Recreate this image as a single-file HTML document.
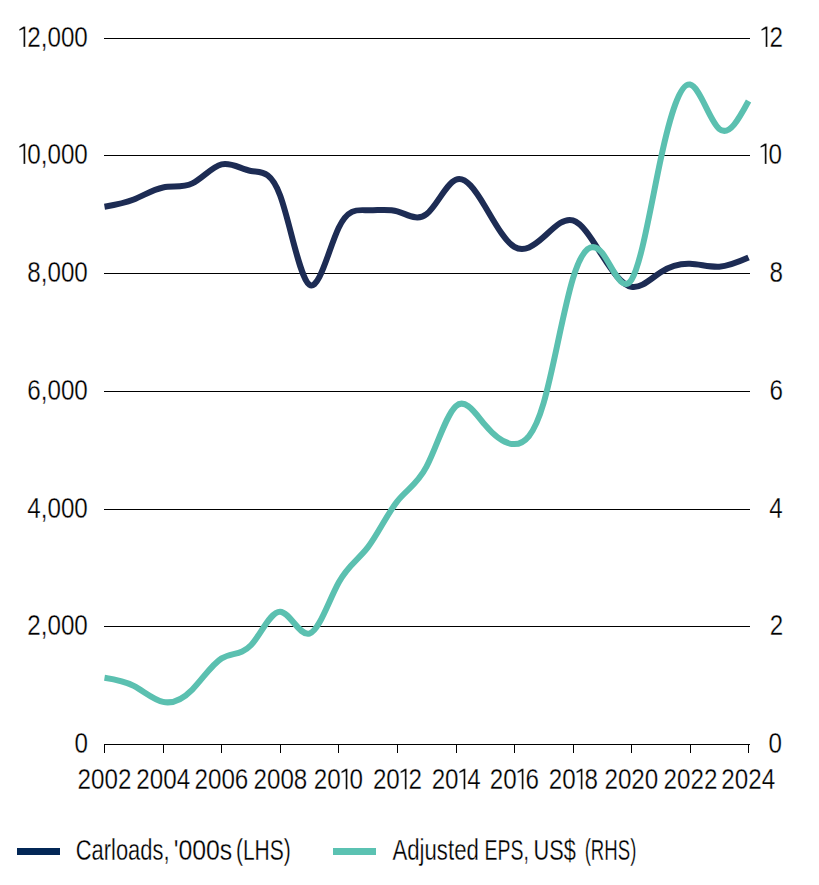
<!DOCTYPE html><html><head><meta charset="utf-8"><title>Carloads vs Adjusted EPS</title><style>html,body{margin:0;padding:0;background:#fff;overflow:hidden;}svg{display:block;}text{font-family:"Liberation Sans", sans-serif;font-size:29.8px;fill:#000;stroke:#fff;stroke-width:0.3px;}</style></head><body>
<svg width="819" height="885" viewBox="0 0 819 885">
<rect width="819" height="885" fill="#fff"/>
<rect x="104" y="38" width="646" height="1" fill="#000"/>
<rect x="104" y="155" width="646" height="1" fill="#000"/>
<rect x="104" y="273" width="646" height="1" fill="#000"/>
<rect x="104" y="391" width="646" height="1" fill="#000"/>
<rect x="104" y="509" width="646" height="1" fill="#000"/>
<rect x="104" y="626" width="646" height="1" fill="#000"/>
<rect x="104" y="744" width="646" height="1" fill="#000"/>
<rect x="104" y="744" width="1" height="9" fill="#000"/>
<rect x="163" y="744" width="1" height="9" fill="#000"/>
<rect x="221" y="744" width="1" height="9" fill="#000"/>
<rect x="280" y="744" width="1" height="9" fill="#000"/>
<rect x="338" y="744" width="1" height="9" fill="#000"/>
<rect x="397" y="744" width="1" height="9" fill="#000"/>
<rect x="456" y="744" width="1" height="9" fill="#000"/>
<rect x="514" y="744" width="1" height="9" fill="#000"/>
<rect x="573" y="744" width="1" height="9" fill="#000"/>
<rect x="631" y="744" width="1" height="9" fill="#000"/>
<rect x="690" y="744" width="1" height="9" fill="#000"/>
<rect x="748" y="744" width="1" height="9" fill="#000"/>
<path d="M104.50 206.70 C114.26 205.07 124.02 203.44 133.78 199.51 C143.53 195.58 153.29 189.34 163.05 187.47 C172.81 185.60 182.57 188.09 192.32 183.40 C202.08 178.71 211.84 166.84 221.60 164.46 C231.36 162.08 241.12 169.19 250.88 170.95 C260.63 172.71 270.39 169.13 280.15 195.52 C289.91 221.91 299.67 278.26 309.42 284.80 C319.18 291.34 328.94 248.05 338.70 227.73 C348.46 207.41 358.22 210.05 367.97 210.32 C377.73 210.59 387.49 208.50 397.25 211.28 C407.01 214.06 416.77 221.72 426.52 214.15 C436.28 206.58 446.04 183.78 455.80 179.67 C465.56 175.56 475.32 190.14 485.07 206.51 C494.83 222.88 504.59 241.05 514.35 246.80 C524.11 252.55 533.87 245.87 543.62 237.09 C553.38 228.31 563.14 217.42 572.90 220.37 C582.66 223.32 592.42 240.10 602.17 255.50 C611.93 270.90 621.69 284.93 631.45 286.84 C641.21 288.75 650.97 278.53 660.72 272.20 C670.48 265.87 680.24 263.43 690.00 263.78 C699.76 264.13 709.52 267.26 719.27 266.68 C729.03 266.10 738.79 261.80 748.55 257.50" fill="none" stroke="#1d2c54" stroke-width="6.0" stroke-linejoin="round"/>
<path d="M104.50 677.68 C114.26 679.19 124.02 680.70 133.78 685.84 C143.53 690.98 153.29 699.76 163.05 701.87 C172.81 703.98 182.57 699.42 192.32 689.53 C202.08 679.64 211.84 664.43 221.60 658.40 C231.36 652.37 241.12 655.53 250.88 645.25 C260.63 634.97 270.39 611.24 280.15 611.64 C289.91 612.04 299.67 636.58 309.42 633.59 C319.18 630.60 328.94 600.10 338.70 582.44 C348.46 564.78 358.22 559.97 367.97 547.18 C377.73 534.39 387.49 513.62 397.25 501.33 C407.01 489.04 416.77 485.23 426.52 466.70 C436.28 448.17 446.04 414.92 455.80 406.19 C465.56 397.46 475.32 413.26 485.07 424.95 C494.83 436.64 504.59 444.21 514.35 444.12 C524.11 444.03 533.87 436.29 543.62 403.00 C553.38 369.71 563.14 310.89 572.90 278.67 C582.66 246.45 592.42 240.84 602.17 252.96 C611.93 265.08 621.69 294.92 631.45 279.81 C641.21 264.70 650.97 204.65 660.72 159.17 C670.48 113.69 680.24 82.80 690.00 84.57 C699.76 86.34 709.52 120.79 719.27 128.97 C729.03 137.15 738.79 119.07 748.55 100.99" fill="none" stroke="#5bc0b0" stroke-width="6.0" stroke-linejoin="round"/>
<g aria-label="12,000" transform="translate(18.51 47.00) scale(0.8120 1)" fill="#000"><path transform="translate(0.00 0) scale(0.014551 -0.014551)" d="M418 0L418 1245L60 1110L60 1220L432 1405L574 1405L574 0Z" stroke="#fff" stroke-width="0.3" vector-effect="non-scaling-stroke"/><text x="10.81">2,000</text></g>
<g aria-label="10,000" transform="translate(18.51 164.00) scale(0.8120 1)" fill="#000"><path transform="translate(0.00 0) scale(0.014551 -0.014551)" d="M418 0L418 1245L60 1110L60 1220L432 1405L574 1405L574 0Z" stroke="#fff" stroke-width="0.3" vector-effect="non-scaling-stroke"/><text x="10.81">0,000</text></g>
<text transform="translate(27.29 282.00) scale(0.8120 1)">8,000</text>
<text transform="translate(27.29 400.00) scale(0.8120 1)">6,000</text>
<text transform="translate(27.29 518.00) scale(0.8120 1)">4,000</text>
<text transform="translate(27.29 635.00) scale(0.8120 1)">2,000</text>
<text transform="translate(74.39 753.00) scale(0.8120 1)">0</text>
<g aria-label="12" transform="translate(760.68 47.00) scale(0.8120 1)" fill="#000"><path transform="translate(0.00 0) scale(0.014551 -0.014551)" d="M418 0L418 1245L60 1110L60 1220L432 1405L574 1405L574 0Z" stroke="#fff" stroke-width="0.3" vector-effect="non-scaling-stroke"/><text x="10.81">2</text></g>
<g aria-label="10" transform="translate(759.81 164.00) scale(0.8120 1)" fill="#000"><path transform="translate(0.00 0) scale(0.014551 -0.014551)" d="M418 0L418 1245L60 1110L60 1220L432 1405L574 1405L574 0Z" stroke="#fff" stroke-width="0.3" vector-effect="non-scaling-stroke"/><text x="10.81">0</text></g>
<text transform="translate(769.49 282.00) scale(0.8120 1)">8</text>
<text transform="translate(769.51 400.00) scale(0.8120 1)">6</text>
<text transform="translate(769.15 518.00) scale(0.8120 1)">4</text>
<text transform="translate(769.66 635.00) scale(0.8120 1)">2</text>
<text transform="translate(768.39 753.00) scale(0.8120 1)">0</text>
<text transform="translate(77.58 789.30) scale(0.8120 1)">2002</text>
<text transform="translate(136.33 789.30) scale(0.8120 1)">2004</text>
<text transform="translate(194.51 789.30) scale(0.8120 1)">2006</text>
<text transform="translate(253.50 789.30) scale(0.8120 1)">2008</text>
<g aria-label="2010" transform="translate(313.79 789.30) scale(0.8120 1)" fill="#000"><text x="0.00">20</text><path transform="translate(33.15 0) scale(0.014551 -0.014551)" d="M418 0L418 1245L60 1110L60 1220L432 1405L574 1405L574 0Z" stroke="#fff" stroke-width="0.3" vector-effect="non-scaling-stroke"/><text x="43.96">0</text></g>
<g aria-label="2012" transform="translate(372.92 789.30) scale(0.8120 1)" fill="#000"><text x="0.00">20</text><path transform="translate(33.15 0) scale(0.014551 -0.014551)" d="M418 0L418 1245L60 1110L60 1220L432 1405L574 1405L574 0Z" stroke="#fff" stroke-width="0.3" vector-effect="non-scaling-stroke"/><text x="43.96">2</text></g>
<g aria-label="2014" transform="translate(431.67 789.30) scale(0.8120 1)" fill="#000"><text x="0.00">20</text><path transform="translate(33.15 0) scale(0.014551 -0.014551)" d="M418 0L418 1245L60 1110L60 1220L432 1405L574 1405L574 0Z" stroke="#fff" stroke-width="0.3" vector-effect="non-scaling-stroke"/><text x="43.96">4</text></g>
<g aria-label="2016" transform="translate(489.85 789.30) scale(0.8120 1)" fill="#000"><text x="0.00">20</text><path transform="translate(33.15 0) scale(0.014551 -0.014551)" d="M418 0L418 1245L60 1110L60 1220L432 1405L574 1405L574 0Z" stroke="#fff" stroke-width="0.3" vector-effect="non-scaling-stroke"/><text x="43.96">6</text></g>
<g aria-label="2018" transform="translate(548.84 789.30) scale(0.8120 1)" fill="#000"><text x="0.00">20</text><path transform="translate(33.15 0) scale(0.014551 -0.014551)" d="M418 0L418 1245L60 1110L60 1220L432 1405L574 1405L574 0Z" stroke="#fff" stroke-width="0.3" vector-effect="non-scaling-stroke"/><text x="43.96">8</text></g>
<text transform="translate(604.45 789.30) scale(0.8120 1)">2020</text>
<text transform="translate(663.58 789.30) scale(0.8120 1)">2022</text>
<text transform="translate(721.33 789.30) scale(0.8120 1)">2024</text>
<text transform="translate(75.69 859.80) scale(0.7361 1)">Carloads,</text>
<text transform="translate(173.64 859.80) scale(0.8343 1)">'000s</text>
<text transform="translate(235.89 859.80) scale(0.7069 1)">(LHS)</text>
<text transform="translate(392.46 859.80) scale(0.7448 1)">Adjusted</text>
<text transform="translate(484.50 859.80) scale(0.6530 1)">EPS,</text>
<text transform="translate(533.52 859.80) scale(0.7302 1)">US$</text>
<text transform="translate(584.65 859.80) scale(0.6248 1)">(RHS)</text>
<rect x="17" y="848" width="43" height="7" fill="#032756"/>
<rect x="333" y="848" width="43" height="7" fill="#5bc2b2"/>
</svg></body></html>
